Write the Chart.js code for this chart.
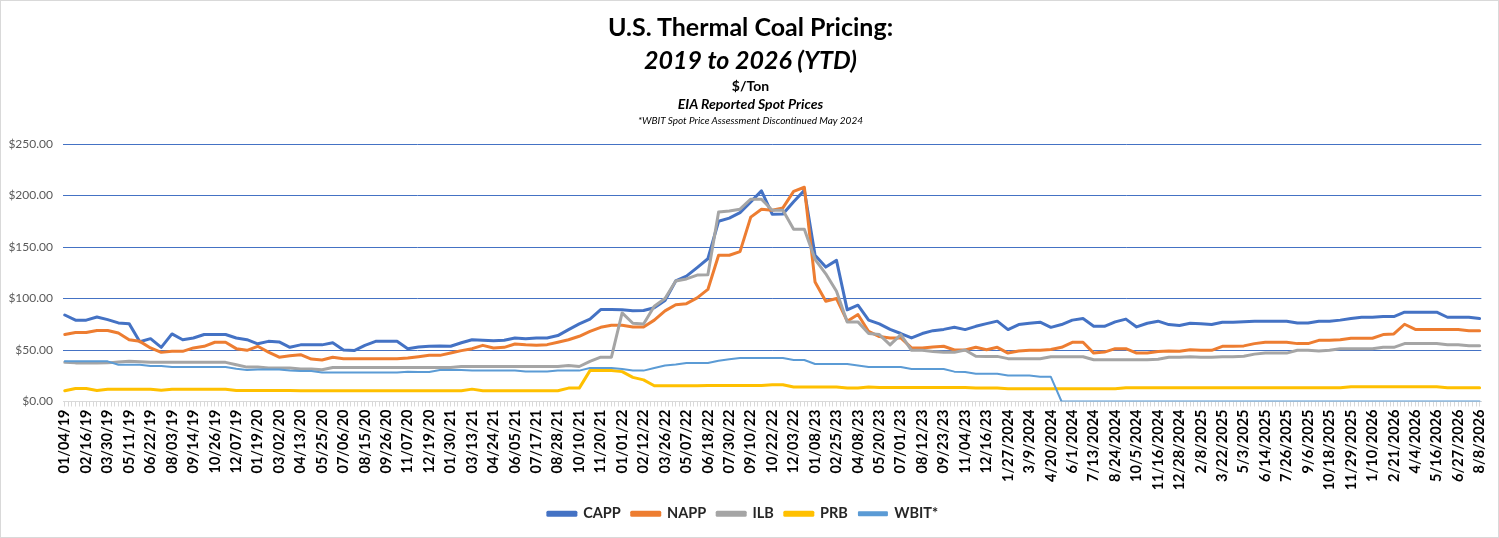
<!DOCTYPE html>
<html>
<head>
<meta charset="utf-8">
<title>U.S. Thermal Coal Pricing</title>
<script src="https://cdn.jsdelivr.net/npm/chart.js@4.4.1/dist/chart.umd.min.js"></script>
<style>
    html, body { margin: 0; padding: 0; background: #fff; }
    #wrap { position: relative; width: 1499px; height: 538px; box-sizing: border-box; border: 1px solid #d9d9d9; overflow: hidden; }
    #coalChart { position: absolute; left: 0; top: 0; }
    .hd { position: absolute; left: 0; width: 1499px; text-align: center; color: #000; font-family: Lato, "Noto Sans", sans-serif; white-space: nowrap; }
    .t1 { top: 10px; font-size: 25px; line-height: 30px; font-weight: 700; }
    .t2 { top: 43px; font-size: 25px; line-height: 30px; font-weight: 700; font-style: italic; }
    .t3 { top: 77px; font-size: 14px; line-height: 16px; font-weight: 700; }
    .t4 { top: 95px; font-size: 14px; line-height: 16px; font-weight: 700; font-style: italic; }
    .t5 { top: 113px; font-size: 10px; line-height: 12px; font-style: italic; }
</style>
</head>
<body>
<div id="wrap">
    <canvas id="coalChart" width="1499" height="538"></canvas>
    <div class="hd t1">U.S. Thermal Coal Pricing:</div>
    <div class="hd t2">2019 to 2026 (YTD)</div>
    <div class="hd t3">$/Ton</div>
    <div class="hd t4">EIA Reported Spot Prices</div>
    <div class="hd t5">*WBIT Spot Price Assessment Discontinued May 2024</div>
</div>
<script>
// one tick label every 6 weeks, one reading every 3 weeks
const tickLabels = ['01/04/19','02/16/19','03/30/19','05/11/19','06/22/19','08/03/19','09/14/19','10/26/19','12/07/19',
    '01/19/20','03/02/20','04/13/20','05/25/20','07/06/20','08/15/20','09/26/20','11/07/20','12/19/20',
    '01/30/21','03/13/21','04/24/21','06/05/21','07/17/21','08/28/21','10/10/21','11/20/21',
    '01/01/22','02/12/22','03/26/22','05/07/22','06/18/22','07/30/22','09/10/22','10/22/22','12/03/22',
    '01/08/23','02/25/23','04/08/23','05/20/23','07/01/23','08/12/23','09/23/23','11/04/23','12/16/23',
    '1/27/2024','3/9/2024','4/20/2024','6/1/2024','7/13/2024','8/24/2024','10/5/2024','11/16/2024','12/28/2024',
    '2/8/2025','3/22/2025','5/3/2025','6/14/2025','7/26/2025','9/6/2025','10/18/2025','11/29/2025',
    '1/10/2026','2/21/2026','4/4/2026','5/16/2026','6/27/2026','8/8/2026'];
const WEEKS_PER_LABEL = 6;
const WEEKS_PER_POINT = 3;

const capp = [84, 79, 79, 82, 79.5, 76.3, 75.6, 58, 61, 52.6, 65.6, 60, 61.7, 65, 65, 65, 61.7, 60, 56, 58.4, 57.8, 52.6,
    55, 55, 55, 57, 50, 49.4, 54.5, 58.4, 58.4, 58.4, 51.3, 53, 53.6, 54, 53.6, 57, 60, 59.4, 59, 59.4, 61.7, 61, 61.7, 61.7, 64, 69.8, 75.3,
    80, 89.3, 89.3, 89, 88, 88.3, 91, 98, 117, 121.7, 130, 138.6, 175, 178, 183.4, 193.8, 204.5, 181.8, 182, 194, 205, 142, 130.5, 137, 89, 93.5, 79,
    75.3, 70, 66, 61.7, 66, 68.8, 70, 72, 69.8, 73, 75.6, 78, 69.8, 74.7, 76, 77, 72, 74.7, 79, 80.5, 73, 73, 77.3, 80, 72.4, 76, 78,
    74.7, 73.7, 76, 75.6, 74.7, 77, 77, 77.5, 78, 78, 78, 78, 76.3, 76.3, 78, 78, 79, 80.5, 81.8, 81.8, 82.5, 82.5, 86.7, 86.7, 86.7, 86.7, 81.8, 81.8, 81.8, 80.5];

const napp = [65, 67, 67, 69, 69, 66.5, 60, 58.4, 52, 47.7, 48.7, 48.7, 52, 53.6, 57.5, 57.5, 51.3, 49.7, 53.6, 48, 43, 44.5,
    45.5, 41.2, 40.3, 42.9, 41.6, 41.6, 41.6, 41.6, 41.6, 41.6, 42.2, 43.5, 44.8, 44.8, 47, 49.4, 51.3, 54.5, 52, 52.6, 55.8, 55, 54.5, 55.2, 57.5, 60, 63.3,
    68, 72, 74, 74, 72.4, 72.4, 79, 88, 94, 95, 100.6, 108.8, 142, 142, 145.5, 179, 186.7, 185.7, 188, 204, 208, 116, 97.4, 100, 78, 84.4, 68,
    63, 61.7, 61.7, 52, 52, 53, 53.6, 50, 50, 52.6, 50.3, 52.6, 47, 49, 49.7, 49.7, 50.5, 52.6, 57.5, 57.5, 47, 48, 51.3, 51.3, 47, 47, 48.5,
    49, 48.7, 50.3, 49.7, 49.7, 53.6, 53.6, 54, 56.2, 57.5, 57.5, 57.5, 56.2, 56.2, 59.4, 59.4, 60, 61.4, 61.4, 61.4, 65, 65.6, 75, 70, 69.8, 69.8, 69.8, 69.8, 68.8, 68.8];

const ilb = [38, 37.5, 37.5, 37.3, 37.5, 38.3, 39, 38.5, 38, 38, 38, 38, 38, 38, 38, 38, 35.7, 33.4, 33.4, 32.5, 32.5, 32.5,
    31.5, 31.5, 30.8, 33, 33, 33, 33, 33, 33, 33, 33, 33, 33, 33, 33, 34, 34, 34, 34, 34, 34, 34, 34, 34, 34, 35, 34,
    39, 43, 43, 86, 76, 75.3, 92.5, 100, 117, 119, 122.7, 123, 184, 185, 186.7, 196.4, 196.4, 185.7, 185.7, 167.2, 167.2, 138, 124, 107, 77.3, 77.3, 66,
    65, 55, 65, 49.7, 49.7, 48.5, 47.7, 47.7, 50, 44, 43.8, 43.8, 41.6, 41.6, 41.6, 41.6, 43.5, 43.5, 43.5, 43.5, 40.6, 40.6, 40.6, 40.6, 40.6, 40.6, 41,
    43, 43, 43.5, 43, 43, 43.5, 43.5, 44, 46, 47, 47, 47, 49.7, 49.7, 49, 49.7, 51.3, 51.3, 51.3, 51.3, 52.6, 52.6, 56.2, 56.2, 56.2, 56.2, 55.2, 55.2, 54.2, 54.2];

const prb = [10.4, 12.7, 12.7, 10.7, 12, 12, 12, 12, 12, 11, 12, 12, 12, 12, 12, 12, 10.7, 10.7, 10.7, 10.7, 10.7, 10.7,
    10.5, 10.5, 10.5, 10.5, 10.5, 10.5, 10.5, 10.5, 10.5, 10.5, 10.5, 10.5, 10.5, 10.5, 10.5, 10.5, 12, 10.5, 10.5, 10.5, 10.5, 10.5, 10.5, 10.5, 10.5, 13, 13,
    30, 30, 30, 29, 23.4, 21, 15.3, 15.3, 15.3, 15.3, 15.3, 15.6, 15.6, 15.6, 15.6, 15.6, 15.6, 16.2, 16.2, 14, 14, 14, 14, 14, 13, 13, 14,
    13.6, 13.6, 13.6, 13.6, 13.6, 13.6, 13.6, 13.6, 13.6, 13, 13, 13, 12.3, 12.3, 12.3, 12.3, 12.3, 12.3, 12.3, 12.3, 12.3, 12.3, 12.3, 13.3, 13.3, 13.3, 13.3,
    13.3, 13.3, 13.3, 13.3, 13.3, 13.3, 13.3, 13.3, 13.3, 13.3, 13.3, 13.3, 13.3, 13.3, 13.3, 13.3, 13.3, 14.3, 14.3, 14.3, 14.3, 14.3, 14.3, 14.3, 14.3, 14.3, 13.3, 13.3, 13.3, 13.3];

const wbit = [39, 39, 39, 39, 39, 35.7, 35.7, 35.7, 34.4, 34.4, 33.4, 33.4, 33.4, 33.4, 33.4, 33.4, 31.8, 30.5, 31, 31, 31, 30,
    29.5, 29.5, 28.2, 28.2, 28.2, 28.2, 28.2, 28.2, 28.2, 28.2, 29, 28.6, 28.6, 30.5, 30.5, 30.5, 30, 30, 30, 30, 30, 29.2, 29.2, 29.2, 30, 30, 30,
    32.5, 32.5, 32.5, 31.5, 30, 30, 32.5, 35, 36, 37.3, 37.3, 37.3, 39.6, 41, 42.2, 42.2, 42.2, 42.2, 42.2, 40.3, 40.3, 36.4, 36.4, 36.4, 36.4, 35, 33.4,
    33.4, 33.4, 33.4, 31.5, 31.5, 31.5, 31.5, 29, 28.6, 27, 27, 27, 25.3, 25.3, 25.3, 24, 24, 0, 0, 0, 0, 0, 0, 0, 0, 0, 0,
    0, 0, 0, 0, 0, 0, 0, 0, 0, 0, 0, 0, 0, 0, 0, 0, 0, 0, 0, 0, 0, 0, 0, 0, 0, 0, 0, 0, 0, 0];

document.addEventListener('DOMContentLoaded', () => {
    const lastWeek = (tickLabels.length - 1) * WEEKS_PER_LABEL;
    const toPoints = arr => arr.map((v, i) => ({ x: i * WEEKS_PER_POINT, y: v }));

    const series = [
        { label: 'CAPP', data: capp, color: '#4472C4', width: 3 },
        { label: 'NAPP', data: napp, color: '#ED7D31', width: 3 },
        { label: 'ILB', data: ilb, color: '#A5A5A5', width: 3 },
        { label: 'PRB', data: prb, color: '#FFC000', width: 3 },
        { label: 'WBIT*', data: wbit, color: '#5B9BD5', width: 2 }
    ];

    const ctx = document.getElementById('coalChart').getContext('2d');
    new Chart(ctx, {
        type: 'line',
        data: {
            datasets: series.map((s, i) => ({
                label: s.label,
                data: toPoints(s.data),
                borderColor: s.color,
                backgroundColor: s.color,
                borderWidth: s.width,
                pointRadius: 0,
                tension: 0,
                borderJoinStyle: 'round',
                borderCapStyle: 'round',
                order: series.length - i   // later series sit on top, like Excel
            }))
        },
        options: {
            responsive: false,
            animation: false,
            layout: { padding: { top: 143, left: 0, right: 15, bottom: 8 } },
            plugins: {
                title: { display: false },
                tooltip: { enabled: false },
                legend: {
                    position: 'bottom',
                    labels: {
                        sort: (a, b) => a.datasetIndex - b.datasetIndex,
                        boxWidth: 28,
                        boxHeight: 3,
                        padding: 11,
                        color: '#262626',
                        font: { family: 'Lato', size: 14.5, weight: 'bold' }
                    }
                }
            },
            scales: {
                x: {
                    type: 'linear',
                    min: -0.5,
                    max: lastWeek + 0.5,
                    afterBuildTicks: scale => {
                        const t = [];
                        for (let w = 0; w <= lastWeek; w++) t.push({ value: w });
                        scale.ticks = t;
                    },
                    afterFit: scale => { scale.height = 94; },
                    ticks: {
                        autoSkip: false,
                        minRotation: 90,
                        maxRotation: 90,
                        padding: 3,
                        color: '#000',
                        font: { family: 'Lato', size: 14.5, weight: 'bold' },
                        callback: v => (v % WEEKS_PER_LABEL === 0 ? tickLabels[v / WEEKS_PER_LABEL] : '')
                    },
                    grid: { drawOnChartArea: false, tickLength: 5, color: '#d9d9d9' },
                    border: { color: '#d9d9d9' }
                },
                y: {
                    min: 0,
                    max: 250,
                    afterFit: scale => { scale.width = 62; },
                    ticks: {
                        stepSize: 50,
                        padding: 10,
                        color: '#595959',
                        font: { family: 'Lato', size: 12 },
                        callback: v => '$' + v.toFixed(2)
                    },
                    grid: {
                        color: c => (c.tick && c.tick.value === 0 ? 'rgba(0,0,0,0)' : '#4472C4'),
                        lineWidth: 1,
                        drawTicks: false
                    },
                    border: { display: false }
                }
            }
        }
    });
});
</script>
</body>
</html>
